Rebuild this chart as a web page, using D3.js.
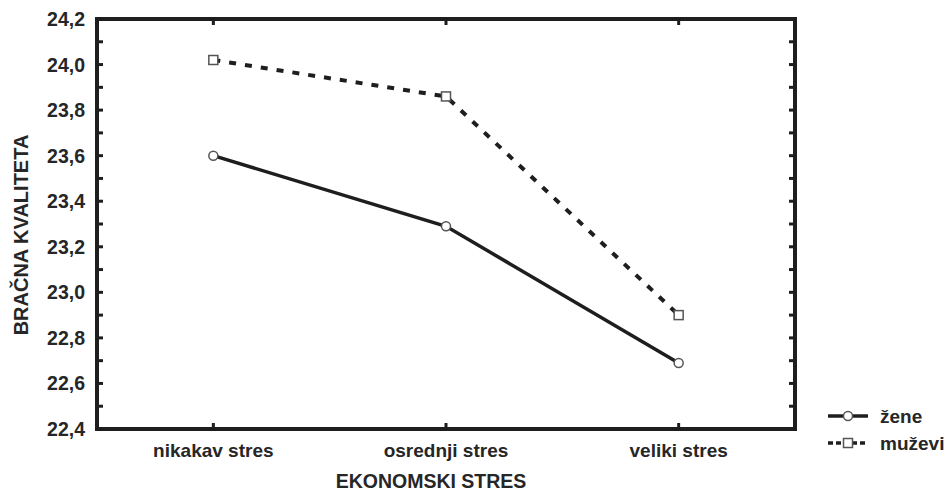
<!DOCTYPE html>
<html>
<head>
<meta charset="utf-8">
<script src="https://cdn.jsdelivr.net/npm/d3@7"></script>
<style>
body { margin: 0; background: #fff; }
text { font-family: "Liberation Sans", Arial, sans-serif; font-weight: bold; fill: #262626; }
</style>
</head>
<body>
<svg id="chart" width="949" height="492"></svg>
<script>
const categories = ["nikakav stres", "osrednji stres", "veliki stres"];
const zene = [23.6, 23.29, 22.69];
const muzevi = [24.02, 23.86, 22.9];
const yTicks = [22.4, 22.6, 22.8, 23.0, 23.2, 23.4, 23.6, 23.8, 24.0, 24.2];
const yMinor = [22.5, 22.7, 22.9, 23.1, 23.3, 23.5, 23.7, 23.9, 24.1];

const plotLeft = 97, plotRight = 795, plotTop = 19, plotBottom = 429;
const svg = d3.select("#chart");

let x = d3.scalePoint().domain(categories).range([plotLeft, plotRight]).padding(0.5);
let y = d3.scaleLinear().domain([22.4, 24.2]).range([plotBottom, plotTop]);

const ink = "#1e1e1e";
const fmt = d => d.toFixed(1).replace(".", ",");

// ticks pointing inside
let ticks = svg.append("g").attr("stroke", ink).attr("stroke-width", 3);
yTicks.concat(yMinor).forEach(function(v) {
    ticks.append("line").attr("x1", plotLeft).attr("x2", plotLeft + 6).attr("y1", y(v)).attr("y2", y(v));
    ticks.append("line").attr("x1", plotRight).attr("x2", plotRight - 6).attr("y1", y(v)).attr("y2", y(v));
});
categories.forEach(function(c) {
    ticks.append("line").attr("x1", x(c)).attr("x2", x(c)).attr("y1", plotBottom).attr("y2", plotBottom - 6);
    ticks.append("line").attr("x1", x(c)).attr("x2", x(c)).attr("y1", plotTop).attr("y2", plotTop + 6);
});

svg.append("rect")
    .attr("x", plotLeft).attr("y", plotTop)
    .attr("width", plotRight - plotLeft).attr("height", plotBottom - plotTop)
    .attr("fill", "none").attr("stroke", ink).attr("stroke-width", 4);

svg.selectAll(".ylab")
    .data(yTicks)
    .enter()
    .append("text")
    .attr("x", plotLeft - 12)
    .attr("y", d => y(d) + 7)
    .attr("text-anchor", "end")
    .attr("font-size", 19.5)
    .text(fmt);

svg.selectAll(".xlab")
    .data(categories)
    .enter()
    .append("text")
    .attr("x", d => x(d))
    .attr("y", 457)
    .attr("text-anchor", "middle")
    .attr("font-size", 19)
    .text(d => d);

svg.append("text")
    .attr("x", 431).attr("y", 488)
    .attr("text-anchor", "middle").attr("font-size", 19.5)
    .text("EKONOMSKI STRES");

svg.append("text")
    .attr("transform", "translate(28,235) rotate(-90)")
    .attr("text-anchor", "middle").attr("font-size", 20)
    .text("BRAČNA KVALITETA");

let line = d3.line().x((d, i) => x(categories[i])).y(d => y(d));

svg.append("path").datum(muzevi)
    .attr("d", line).attr("fill", "none")
    .attr("stroke", ink).attr("stroke-width", 4).attr("stroke-dasharray", "7,9");
svg.append("path").datum(zene)
    .attr("d", line).attr("fill", "none")
    .attr("stroke", ink).attr("stroke-width", 3.5);

function circleMark(g, cx, cy) {
    g.append("circle").attr("cx", cx).attr("cy", cy).attr("r", 4.5)
        .attr("fill", "#fff").attr("stroke", "#555").attr("stroke-width", 1.5);
}
function squareMark(g, cx, cy) {
    g.append("rect").attr("x", cx - 4.5).attr("y", cy - 4.5).attr("width", 9).attr("height", 9)
        .attr("fill", "#fff").attr("stroke", "#555").attr("stroke-width", 1.5);
}

let marks = svg.append("g");
zene.forEach((v, i) => circleMark(marks, x(categories[i]), y(v)));
muzevi.forEach((v, i) => squareMark(marks, x(categories[i]), y(v)));

// legend
let leg = svg.append("g");
leg.append("line").attr("x1", 828).attr("x2", 868).attr("y1", 416).attr("y2", 416)
    .attr("stroke", ink).attr("stroke-width", 3.5);
circleMark(leg, 848, 416);
leg.append("text").attr("x", 880).attr("y", 423).attr("font-size", 19).text("žene");
leg.append("line").attr("x1", 828).attr("x2", 868).attr("y1", 443).attr("y2", 443)
    .attr("stroke", ink).attr("stroke-width", 3.5).attr("stroke-dasharray", "5,3");
squareMark(leg, 848, 443);
leg.append("text").attr("x", 880).attr("y", 450).attr("font-size", 19).text("muževi");
</script>
</body>
</html>
